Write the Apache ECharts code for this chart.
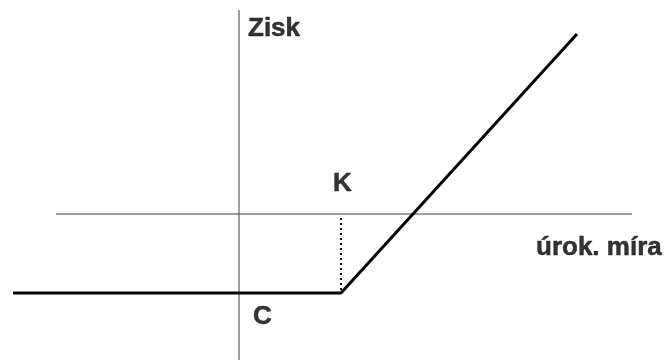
<!DOCTYPE html>
<html>
<head>
<meta charset="utf-8">
<script src="https://cdn.jsdelivr.net/npm/echarts@6/dist/echarts.min.js"></script>
<style>
  html, body { margin: 0; padding: 0; background: #fff; }
  #chart { width: 672px; height: 360px; }
</style>
</head>
<body>
<div id="chart"></div>
<script>
// payoff (zisk) vs. interest rate, origin at the axis crossing
var rate   = [-226, 102, 338];
var profit = [-79, -79, 180];
var strikeK = 102;
var floorC = -79;

// axis extents
var hAxisX = [-183, 393];
var vAxisY = [-146, 204];

// text labels: [x, y, text]
var labels = [
  [9, 185, 'Zisk'],
  [94, 30, 'K'],
  [297, -34, 'úrok. míra'],
  [14, -103, 'C']
];

var chart = echarts.init(document.getElementById('chart'));

var payoff = rate.map(function (r, i) { return [r, profit[i]]; });

var option = {
  animation: false,
  grid: { left: 0, right: 0, top: 0, bottom: 0 },
  xAxis: { type: 'value', min: -239, max: 433, show: false },
  yAxis: { type: 'value', min: -146, max: 214, show: false },
  series: [
    {
      // horizontal axis
      type: 'line', symbol: 'none', silent: true,
      lineStyle: { color: '#404040', width: 1 },
      data: [[hAxisX[0], 0], [hAxisX[1], 0]]
    },
    {
      // vertical axis
      type: 'line', symbol: 'none', silent: true,
      lineStyle: { color: '#404040', width: 1 },
      data: [[0, vAxisY[0]], [0, vAxisY[1]]]
    },
    {
      // dotted line at K
      type: 'line', symbol: 'none', silent: true,
      lineStyle: { color: '#000', width: 2, type: [2, 3] },
      data: [[strikeK, -4], [strikeK, floorC]]
    },
    {
      type: 'line', symbol: 'none',
      lineStyle: { color: '#000', width: 3 },
      data: payoff
    },
    {
      type: 'scatter', symbolSize: 0, silent: true,
      label: {
        show: true, position: 'inside', align: 'left', verticalAlign: 'middle',
        color: '#000', textBorderColor: '#000', textBorderWidth: 0.5,
        fontFamily: 'Liberation Sans', fontWeight: 'bold', fontSize: 26,
        formatter: function (p) { return p.data[2]; }
      },
      data: labels
    }
  ]
};
chart.setOption(option);
</script>
</body>
</html>
